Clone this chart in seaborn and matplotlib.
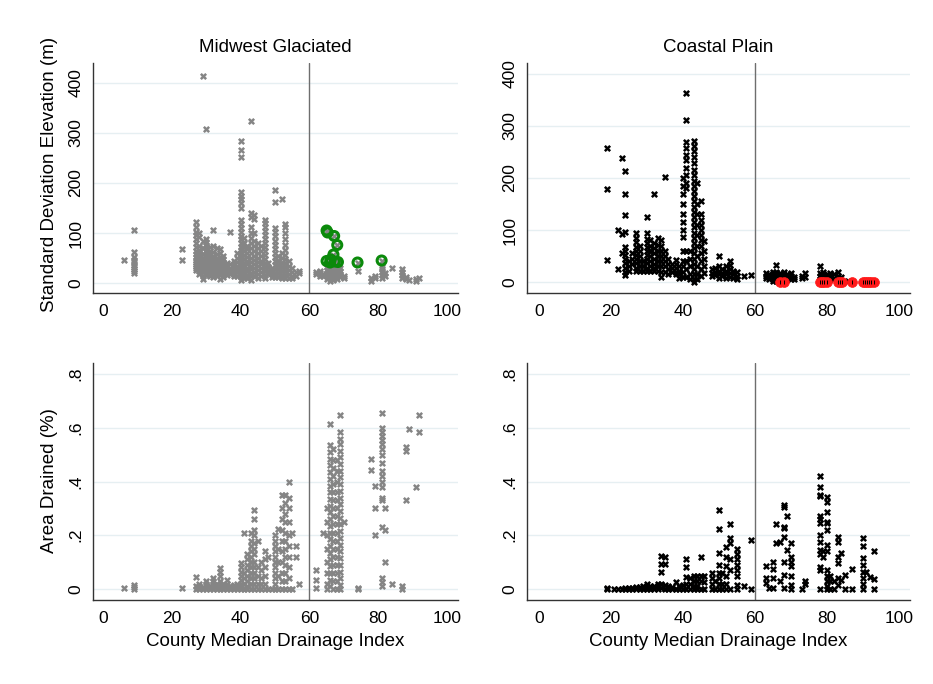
import matplotlib
matplotlib.use("Agg")
import matplotlib.pyplot as plt
import seaborn as sns
import pandas as pd

# ---------------- data ----------------
# Midwest Glaciated: SD of elevation (m), columns by drainage index
mw_sd_cols = [6, 9, 23, 27, 28, 29, 30, 31, 32, 33, 34, 35, 36, 37, 38, 39, 40, 41, 42, 43,
              44, 45, 46, 47, 48, 49, 50, 51, 52, 53, 54, 55, 56, 57, 62, 63, 64, 65, 66, 67,
              68, 69, 70, 74, 78, 79, 81, 82, 84, 87, 88, 89, 91, 92]
mw_sd_vals = [
    [47], [107, 63, 52, 47, 42, 37, 33, 28, 24, 20], [69, 46],
    [122, 112, 103, 96, 88, 80, 72, 64, 58, 52, 47, 42, 38, 34, 30, 26],
    [100, 92, 75, 66, 60, 55, 50, 45, 40, 35, 30, 25, 18],
    [415, 85, 70, 58, 50, 44, 38, 33, 28, 22, 15, 8],
    [308, 88, 82, 76, 70, 64, 58, 52, 46, 40, 34, 28, 22, 16],
    [72, 65, 58, 52, 46, 40, 35, 30, 25, 20, 14],
    [107, 75, 62, 55, 48, 42, 36, 30, 24, 18, 12],
    [70, 58, 50, 44, 38, 32, 26, 20, 14],
    [68, 60, 52, 46, 40, 34, 28, 22, 16, 8],
    [55, 48, 42, 36, 30, 24, 18, 12],
    [40, 34, 28, 22, 16],
    [103, 38, 30, 24, 18],
    [45, 38, 32, 26, 20, 14],
    [61, 50, 42, 35, 28, 22, 15],
    [285, 266, 253, 182, 175, 168, 160, 150, 126, 118, 110, 102, 95, 88, 80, 73, 66, 60, 54,
     48, 42, 36, 30, 24, 18, 12, 6],
    [90, 80, 72, 64, 56, 48, 40, 34, 28, 22, 16, 10],
    [75, 68, 60, 52, 45, 38, 31, 24, 17, 10],
    [325, 140, 132, 112, 100, 90, 80, 70, 60, 50, 42, 35, 28, 21, 14, 7],
    [137, 128, 100, 85, 75, 65, 55, 46, 38, 30, 22, 14],
    [80, 70, 60, 50, 42, 34, 26, 18, 10],
    [75, 65, 55, 45, 38, 30, 22, 14],
    [127, 120, 112, 104, 96, 88, 80, 72, 64, 56, 48, 40, 32, 24, 16, 10],
    [40, 32, 25, 18], [30, 24, 18, 12],
    [187, 162, 110, 102, 95, 85, 76, 68, 60, 52, 44, 36, 28, 20, 12],
    [55, 45, 36, 28, 20, 12],
    [168, 60, 50, 40, 32, 24, 16, 10],
    [119, 112, 100, 88, 76, 66, 56, 48, 40, 32, 24, 16, 10],
    [45, 35, 26, 18, 10], [30, 22, 15, 10], [22, 15], [25, 20],
    [23, 18], [25, 20, 14], [18, 14],
    [38, 32, 26, 20, 14, 8], [40, 34, 28, 22, 16, 10, 5], [42, 36, 30, 24, 18, 12, 6],
    [38, 32, 26, 20, 14, 8], [30, 24, 18, 12], [15, 10], [25], [5, 10], [15, 10],
    [33, 28, 22, 16, 10], [20, 14], [30], [28, 22, 16, 10], [8, 12], [6], [5, 8], [10],
]
# highlighted Midwest counties (green)
mw_hi_x = [65, 65.3, 67.2, 68.1, 67, 65, 66.2, 67.4, 68.3, 66, 74, 81]
mw_hi_y = [105, 101, 94, 76, 57, 44, 47, 43, 42, 41, 41, 45]

# Midwest Glaciated: area drained
mw_ad_cols = [6, 9, 23, 27, 28, 29, 30, 31, 32, 33, 34, 35, 36, 37, 38, 39, 40, 41, 42, 43,
              44, 45, 46, 47, 48, 49, 50, 51, 52, 53, 54, 55, 56, 57, 62, 64, 65, 66, 67, 68,
              69, 70, 74, 78, 79, 81, 82, 84, 87, 88, 89, 91, 92]
mw_ad_vals = [
    [0.003], [0.0, 0.008, 0.015], [0.003], [0.0, 0.01, 0.044], [0.0, 0.01, 0.02], [0.0, 0.008],
    [0.0, 0.01, 0.02, 0.03], [0.0, 0.01], [0.0, 0.01, 0.02, 0.03, 0.04], [0.0, 0.01, 0.02],
    [0.0, 0.01, 0.02, 0.03, 0.05, 0.065, 0.077], [0.0, 0.01, 0.02], [0.0, 0.01, 0.02, 0.035],
    [0.0, 0.01], [0.0, 0.008, 0.015], [0.0, 0.01, 0.02],
    [0.0, 0.01, 0.02, 0.035, 0.05, 0.065, 0.08, 0.098],
    [0.21, 0.06, 0.04, 0.02, 0.0],
    [0.13, 0.11, 0.09, 0.07, 0.05, 0.03, 0.01, 0.0],
    [0.21, 0.18, 0.16, 0.14, 0.12, 0.1, 0.08, 0.06, 0.04, 0.02, 0.0],
    [0.294, 0.262, 0.22, 0.2, 0.17, 0.15, 0.13, 0.1, 0.08, 0.06, 0.04, 0.02, 0.0],
    [0.18, 0.08, 0.05, 0.02, 0.0], [0.1, 0.07, 0.04, 0.02, 0.0],
    [0.14, 0.11, 0.08, 0.05, 0.02, 0.0], [0.12, 0.0], [0.0],
    [0.2, 0.18, 0.16, 0.14, 0.12, 0.1, 0.08, 0.06, 0.04, 0.02, 0.0],
    [0.225, 0.15, 0.1, 0.05, 0.0],
    [0.35, 0.3, 0.26, 0.22, 0.18, 0.14, 0.1, 0.06, 0.03, 0.0],
    [0.35, 0.32, 0.28, 0.25, 0.21, 0.18, 0.15, 0.12, 0.09, 0.06, 0.03, 0.0],
    [0.4, 0.34, 0.3, 0.25, 0.2, 0.16, 0.12, 0.08, 0.04, 0.0],
    [0.21, 0.0], [0.16, 0.12], [0.02], [0.07, 0.035, 0.003], [0.21],
    [0.3, 0.25, 0.2, 0.15, 0.1, 0.06, 0.02, 0.0],
    [0.614, 0.535, 0.51, 0.485, 0.46, 0.435, 0.41, 0.385, 0.36, 0.335, 0.31, 0.285, 0.26,
     0.235, 0.21, 0.185, 0.16, 0.135, 0.11, 0.085, 0.06, 0.035, 0.01],
    [0.52, 0.48, 0.45, 0.42, 0.39, 0.36, 0.33, 0.3, 0.27, 0.24, 0.21, 0.18, 0.15, 0.12, 0.09,
     0.06, 0.03, 0.0],
    [0.48, 0.44, 0.4, 0.36, 0.33, 0.3, 0.27, 0.24, 0.21, 0.18, 0.15, 0.12, 0.09, 0.06, 0.03, 0.0],
    [0.647, 0.585, 0.56, 0.54, 0.515, 0.49, 0.465, 0.44, 0.415, 0.39, 0.365, 0.34, 0.315, 0.29,
     0.265, 0.24, 0.215, 0.19, 0.165, 0.14, 0.115, 0.09, 0.065, 0.04, 0.015, 0.0],
    [0.25], [0.0, 0.005], [0.483, 0.443], [0.385, 0.3, 0.2],
    [0.655, 0.6, 0.585, 0.57, 0.555, 0.54, 0.52, 0.5, 0.47, 0.44, 0.42, 0.4, 0.38, 0.34, 0.33,
     0.23, 0.04, 0.025, 0.01],
    [0.3, 0.22, 0.1], [0.02], [0.01, 0.0], [0.53, 0.515, 0.33], [0.595], [0.38], [0.647, 0.583],
]

# Coastal Plain: SD of elevation (m)
cp_sd_cols = [19, 22, 23, 24, 25, 26, 27, 28, 29, 30, 31, 32, 33, 34, 35, 36, 37, 38, 39, 40,
              41, 42, 43, 44, 45, 46, 48, 49, 50, 51, 52, 53, 54, 55, 57, 59, 63, 64, 65, 66,
              67, 68, 69, 70, 71, 73, 74, 78, 79, 80, 81, 82, 83, 84, 86]
cp_sd_vals = [
    [258, 179, 43], [100, 25], [239, 92, 56],
    [214, 170, 128, 97, 68, 60, 52, 44, 36, 28, 20, 14], [40, 30, 22], [55, 45, 35],
    [94, 85, 77, 68, 60, 52, 44, 36, 28, 22], [70, 60, 50, 40, 30, 22], [40, 30, 22],
    [125, 94, 82, 75, 68, 60, 52, 44, 36, 28, 22], [80, 70, 60, 50, 40, 30, 22],
    [169, 75, 65, 55, 45, 35, 28, 22], [85, 72, 60, 50, 40, 30, 22],
    [80, 70, 60, 50, 40, 30, 20, 10], [201, 60, 50, 40, 30, 20], [45, 35, 25, 15],
    [35, 28, 20], [42, 35, 28, 20, 16], [30, 22, 15, 8],
    [200, 185, 170, 150, 130, 115, 100, 87, 60, 40, 30, 20, 10],
    [363, 312, 270, 258, 245, 235, 220, 205, 190, 180, 60, 40, 25, 10],
    [60, 45, 30, 15, 5],
    [271, 262, 252, 240, 228, 215, 205, 195, 185, 175, 165, 155, 145, 135, 125, 115, 105, 95,
     85, 75, 65, 55, 45, 35, 25, 15, 5, 0],
    [190, 150, 130, 110, 90, 70, 50, 30, 15, 5],
    [155, 130, 120, 110, 100, 90, 80, 70, 55, 40, 25, 12],
    [79, 60, 45, 30, 18], [25, 18, 12], [28, 20, 14], [51, 30, 22, 15, 8], [25, 18, 12],
    [30, 22, 15, 8], [40, 32, 25, 18, 10], [22, 15, 8], [20, 12, 6], [11], [14],
    [18, 12, 8], [15, 10, 5], [20, 14, 8, 3], [32, 20, 14, 8, 3], [18, 12, 6], [20, 14, 8],
    [15, 10, 5], [18, 12, 6], [10, 5], [8, 12], [17, 10], [30, 18, 12, 6], [20, 14, 8, 3],
    [15, 10, 5], [18, 12, 6], [15, 8], [20, 12, 5], [10], [3],
]
# highlighted Coastal counties (red)
cp_hi_x = [67, 68, 78, 78.6, 79.3, 80, 83, 83.6, 84.2, 87, 90, 90.6, 91.2, 91.8, 92.4, 93]
cp_hi_y = [1, 1, 1, 1, 1, 1, 1, 1, 1, 1, 1, 1, 1, 1, 1, 1]

# Coastal Plain: area drained
cp_ad_cols = [19, 21, 22, 23, 24, 25, 26, 27, 28, 29, 30, 31, 32, 33, 34, 35, 36, 37, 38, 39,
              40, 41, 42, 43, 44, 45, 46, 48, 49, 50, 51, 52, 53, 55, 57, 59, 63, 64, 65, 66,
              67, 68, 69, 70, 73, 74, 78, 79, 80, 81, 82, 83, 84, 85, 87, 90, 91, 92, 93]
cp_ad_vals = [
    [0.0, 0.004], [0.0], [0.0], [0.0], [0.0, 0.003], [0.0, 0.004], [0.0, 0.005], [0.0, 0.006],
    [0.0, 0.008], [0.0, 0.01], [0.0, 0.008, 0.018], [0.0, 0.01], [0.0, 0.01], [0.0, 0.012, 0.02],
    [0.123, 0.093, 0.063, 0.02, 0.005], [0.12, 0.093, 0.015, 0.0], [0.0, 0.01], [0.0, 0.008],
    [0.025, 0.0], [0.0, 0.01], [0.0, 0.015], [0.11, 0.08, 0.044, 0.02, 0.0], [0.04, 0.02, 0.0],
    [0.05, 0.03, 0.01, 0.0], [0.05, 0.03, 0.01, 0.0], [0.118, 0.05, 0.03, 0.0],
    [0.05, 0.025, 0.0], [0.06, 0.04, 0.02, 0.0], [0.03, 0.0],
    [0.294, 0.222, 0.133, 0.09, 0.06, 0.04, 0.02, 0.0], [0.06, 0.02, 0.0],
    [0.158, 0.12, 0.085, 0.05, 0.02, 0.0], [0.242, 0.19, 0.172, 0.11, 0.07, 0.0],
    [0.15, 0.13, 0.11, 0.09, 0.07, 0.05, 0.015, 0.0], [0.012], [0.182, 0.0],
    [0.085, 0.04, 0.022], [0.003], [0.1, 0.073, 0.04, 0.005], [0.242, 0.17], [0.176, 0.03],
    [0.313, 0.306, 0.232, 0.226, 0.195, 0.1, 0.052, 0.005], [0.27, 0.145],
    [0.17, 0.12, 0.1, 0.085, 0.05, 0.015, 0.0], [0.0], [0.02, 0.03],
    [0.42, 0.378, 0.35, 0.345, 0.27, 0.26, 0.245, 0.2, 0.176, 0.145, 0.13, 0.08, 0.07, 0.0],
    [0.14, 0.12],
    [0.344, 0.325, 0.288, 0.25, 0.245, 0.22, 0.163, 0.14, 0.07, 0.05, 0.03, 0.01, 0.0],
    [0.05, 0.03, 0.0], [0.03, 0.0], [0.194, 0.176, 0.12, 0.095, 0.04, 0.015], [0.134, 0.035],
    [0.052, 0.0], [0.073, 0.0], [0.19, 0.16, 0.115, 0.09, 0.065, 0.04, 0.02, 0.0], [0.064],
    [0.043], [0.142, 0.038, 0.0],
]

titles = ["Midwest Glaciated", "Coastal Plain"]
y_labels = ["Standard Deviation Elevation (m)", "Area Drained (%)"]
x_label = "County Median Drainage Index"
x_ticks = [0, 20, 40, 60, 80, 100]
sd_ticks = [0, 100, 200, 300, 400]
ad_ticks = [0, 0.2, 0.4, 0.6, 0.8]
ad_tick_labels = ["0", ".2", ".4", ".6", ".8"]
cutoff = 60


def to_frame(cols, vals):
    xs, ys = [], []
    for c, v in zip(cols, vals):
        for y in v:
            xs.append(c)
            ys.append(y)
    return pd.DataFrame({"x": xs, "y": ys})


# ---------------- style ----------------
sns.set_style("white")
plt.rcParams["font.family"] = ["Liberation Sans", "DejaVu Sans"]
plt.rcParams["text.color"] = "black"
plt.rcParams["axes.labelcolor"] = "black"
plt.rcParams["xtick.color"] = "black"
plt.rcParams["ytick.color"] = "black"

W, H = 933, 684
fig = plt.figure(figsize=(W / 100, H / 100), dpi=100)
fig.patch.set_facecolor("white")


def px_axes(l, t, r, b):
    return fig.add_axes([l / W, 1 - b / H, (r - l) / W, (b - t) / H])


ax_tl = px_axes(93, 63, 458, 293)
ax_tr = px_axes(527, 63, 910, 293)
ax_bl = px_axes(93, 363, 458, 600)
ax_br = px_axes(527, 363, 910, 600)

GRAY = "#858585"
panels = [
    (ax_tl, to_frame(mw_sd_cols, mw_sd_vals), GRAY, (-2.9, 103.2), (-20, 440), "sd"),
    (ax_tr, to_frame(cp_sd_cols, cp_sd_vals), "black", (-3.3, 103.1), (-21, 421), "sd"),
    (ax_bl, to_frame(mw_ad_cols, mw_ad_vals), GRAY, (-2.9, 103.2), (-0.041, 0.841), "ad"),
    (ax_br, to_frame(cp_ad_cols, cp_ad_vals), "black", (-3.3, 103.1), (-0.041, 0.841), "ad"),
]

for ax, df, col, xl, yl, kind in panels:
    ax.set_facecolor("white")
    ticks = sd_ticks if kind == "sd" else ad_ticks
    for t in ticks:
        ax.axhline(t, color="#e6eff2", lw=1.0, zorder=0)
    ax.axvline(cutoff, color="#6e6e6e", lw=1.0, zorder=1)
    sns.scatterplot(data=df, x="x", y="y", ax=ax, marker="X", s=26, color=col,
                    linewidth=0, zorder=3, legend=False)
    ax.set_xlim(*xl)
    ax.set_ylim(*yl)
    ax.set_xticks(x_ticks)
    ax.set_xticklabels([str(t) for t in x_ticks])
    ax.set_yticks(ticks)
    if kind == "sd":
        ax.set_yticklabels([str(t) for t in ticks])
    else:
        ax.set_yticklabels(ad_tick_labels)
    for lab in ax.get_yticklabels():
        lab.set_rotation(90)
        lab.set_va("center")
    ax.tick_params(axis="both", direction="out", length=5, width=1.0, color="#333333",
                   labelsize=12.5, labelcolor="black", pad=3)
    ax.tick_params(axis="y", pad=2)
    for s in ["top", "right"]:
        ax.spines[s].set_visible(False)
    for s in ["left", "bottom"]:
        ax.spines[s].set_color("#333333")
        ax.spines[s].set_linewidth(1.0)
    ax.set_xlabel("")
    ax.set_ylabel("")

# highlighted points
sns.scatterplot(x=mw_hi_x, y=mw_hi_y, ax=ax_tl, marker="X", s=26, color=GRAY, linewidth=0,
                zorder=4, legend=False)
ax_tl.scatter(mw_hi_x, mw_hi_y, s=42, facecolors="none", edgecolors="#0b8a0b",
              linewidths=2.2, zorder=5)
ax_tr.scatter(cp_hi_x, cp_hi_y, s=50, facecolors="#ff1a1a", edgecolors="#ff1a1a",
              linewidths=0.5, zorder=5)
sns.scatterplot(x=cp_hi_x, y=cp_hi_y, ax=ax_tr, marker="|", s=10, color="black",
                linewidth=0.7, zorder=6, legend=False)

# texts
fig.text(275.5 / W, 1 - 47 / H, titles[0], ha="center", va="center", fontsize=13.5)
fig.text(718.5 / W, 1 - 47 / H, titles[1], ha="center", va="center", fontsize=13.5)
fig.text(50 / W, 1 - 174 / H, y_labels[0], ha="center", va="center", rotation=90, fontsize=13.5)
fig.text(50 / W, 1 - 481 / H, y_labels[1], ha="center", va="center", rotation=90, fontsize=13.5)
fig.text(275.5 / W, 1 - 641 / H, x_label, ha="center", va="center", fontsize=13.5)
fig.text(718.5 / W, 1 - 641 / H, x_label, ha="center", va="center", fontsize=13.5)

fig.savefig("out.png", dpi=100, facecolor="white")
